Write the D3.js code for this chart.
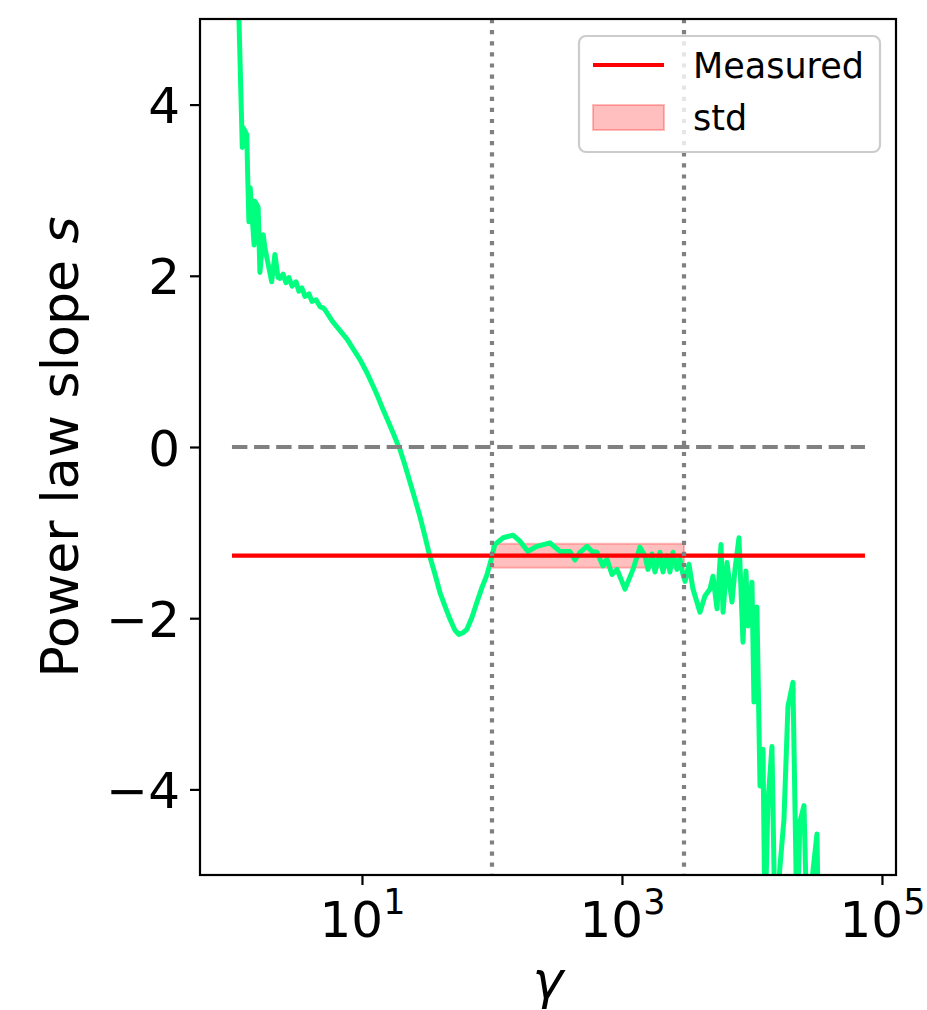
<!DOCTYPE html>
<html>
<head>
<meta charset="utf-8">
<script src="https://cdn.jsdelivr.net/npm/d3@7"></script>
<style>
  html, body { margin: 0; padding: 0; background: #fff; }
  svg { display: block; font-family: "DejaVu Sans", sans-serif; }
</style>
</head>
<body>
<svg id="chart" width="927" height="1010"></svg>
<script>
// Local power-law slope s as a function of gamma
const gamma = [1, 1.13, 1.17, 1.20, 1.22, 1.30, 1.32, 1.35, 1.38, 1.48, 1.50, 1.59, 1.64, 1.74, 1.79,
  2.02, 2.14, 2.26, 2.34, 2.47, 2.60, 2.74, 2.90, 3.11, 3.27, 3.45, 3.64, 3.91, 4.12, 4.43, 4.75,
  5.10, 5.47, 5.98, 6.78, 7.67, 8.53, 9.66, 10.9, 12.2, 13.3, 14.5, 15.8, 17.3, 18.6, 19.6, 21.4,
  23.4, 25.6, 27.9, 30.5, 33.3, 36.5, 39.8, 43.5, 47.5, 51.9, 55.7, 59.8, 64.2, 70.2, 76.7, 83.8,
  91.6, 100, 105, 122, 145, 164, 189, 222,
  279, 333, 398, 435, 475, 538, 588, 642, 714, 767, 838, 916, 1055, 1216, 1375, 1502, 1585, 1702,
  1795, 1960, 2066, 2218, 2339, 2467, 2649, 2793, 2946, 3055, 3275, 3517, 3981, 4348, 4753, 5012,
  5383, 5778, 5988, 6424, 7020, 7402, 7943, 8531, 8995, 9311, 10000, 10360, 10920, 11530, 12160,
  12590, 13280, 14250, 15030, 17620, 18920, 20660, 22180, 23390, 25120, 26490, 31620, 32500];
const slope = [8.0, 5.03, 4.15, 3.50, 3.73, 3.65, 3.18, 2.63, 3.03, 2.36, 2.87, 2.80, 2.04, 2.48, 2.33,
  1.93, 2.25, 1.98, 1.97, 2.02, 1.92, 1.98, 1.88, 1.93, 1.82, 1.86, 1.76, 1.79, 1.70, 1.72, 1.64,
  1.62, 1.55, 1.46, 1.36, 1.26, 1.15, 1.02, 0.87, 0.71, 0.58, 0.44, 0.31, 0.17, 0.05, -0.03, -0.21,
  -0.41, -0.61, -0.81, -1.04, -1.28, -1.49, -1.70, -1.86, -2.01, -2.14, -2.19, -2.17, -2.13, -1.99,
  -1.81, -1.64, -1.49, -1.28, -1.14, -1.06, -1.03, -1.10, -1.22, -1.16,
  -1.12, -1.22, -1.22, -1.32, -1.23, -1.16, -1.22, -1.23, -1.39, -1.31, -1.49,
  -1.43, -1.66, -1.43, -1.17, -1.27, -1.43, -1.25, -1.46, -1.23, -1.46, -1.27, -1.46, -1.23, -1.43,
  -1.31, -1.49, -1.57, -1.37, -1.66, -1.93, -1.74, -1.66, -1.51, -1.89, -1.14, -1.93, -1.35, -1.81,
  -1.43, -1.06, -2.28, -1.45, -2.09, -1.58, -2.98, -1.87, -3.96, -3.53, -5.6, -4.15, -3.50, -5.6,
  -4.35, -3.03, -2.75, -5.6, -4.38, -4.19, -5.6, -4.52, -5.6];

// Measured slope and its spread over the fitting window
const measuredSlope = -1.27;
const measuredStd = 0.14;
const fitWindow = [100, 3000];
const lineRange = [1, 74000];

const yTicks = [-4, -2, 0, 2, 4];
const xTicks = [10, 1000, 100000];
const xTickExp = ["1", "3", "5"];
const legendLabels = ["Measured", "std"];

const svg = d3.select("#chart");
const mLeft = 200, mRight = 896, mTop = 19, mBottom = 875;

const x = d3.scaleLog().domain([Math.pow(10, -0.246), Math.pow(10, 5.108)]).range([mLeft, mRight]);
const y = d3.scaleLinear().domain([-5, 5]).range([mBottom, mTop]);

svg.append("defs").append("clipPath").attr("id", "plotClip")
  .append("rect").attr("x", mLeft).attr("y", mTop)
  .attr("width", mRight - mLeft).attr("height", mBottom - mTop);

const plot = svg.append("g").attr("clip-path", "url(#plotClip)");

// std band over the fitting window
plot.append("rect")
  .attr("x", x(fitWindow[0]))
  .attr("width", x(fitWindow[1]) - x(fitWindow[0]))
  .attr("y", y(measuredSlope + measuredStd))
  .attr("height", y(measuredSlope - measuredStd) - y(measuredSlope + measuredStd))
  .attr("fill", "red").attr("fill-opacity", 0.25)
  .attr("stroke", "red").attr("stroke-opacity", 0.25).attr("stroke-width", 2);

// slope curve
const pts = gamma.map((g, i) => [g, slope[i]]);
plot.append("path")
  .datum(pts)
  .attr("d", d3.line().x(d => x(d[0])).y(d => y(d[1])))
  .attr("fill", "none").attr("stroke", "#00ff7f")
  .attr("stroke-width", 5).attr("stroke-linejoin", "round").attr("stroke-linecap", "square");

// measured slope
plot.append("line")
  .attr("x1", x(lineRange[0])).attr("x2", x(lineRange[1]))
  .attr("y1", y(measuredSlope)).attr("y2", y(measuredSlope))
  .attr("stroke", "red").attr("stroke-width", 4.2);

// zero reference
plot.append("line")
  .attr("x1", x(lineRange[0])).attr("x2", x(lineRange[1]))
  .attr("y1", y(0)).attr("y2", y(0))
  .attr("stroke", "#808080").attr("stroke-width", 4.2)
  .attr("stroke-dasharray", "15.4 6.7");

// fitting window bounds
plot.selectAll("line.vbound").data(fitWindow).join("line")
  .attr("class", "vbound")
  .attr("x1", d => x(d)).attr("x2", d => x(d))
  .attr("y1", mTop).attr("y2", mBottom)
  .attr("stroke", "#808080").attr("stroke-width", 4.2)
  .attr("stroke-dasharray", "4.2 6.9");

// axes
const yAxis = svg.append("g").attr("transform", `translate(${mLeft},0)`)
  .call(d3.axisLeft(y).tickValues(yTicks).tickSize(10).tickPadding(10)
    .tickFormat(d => d < 0 ? "\u2212" + Math.abs(d) : String(d)));
yAxis.select(".domain").remove();
yAxis.selectAll(".tick line").attr("stroke", "#000").attr("stroke-width", 2.2);
yAxis.selectAll(".tick text").attr("font-size", 50).attr("font-family", "DejaVu Sans")
  .attr("fill", "#000").attr("dy", "0.36em");

const xAxis = svg.append("g").attr("transform", `translate(0,${mBottom})`)
  .call(d3.axisBottom(x).tickValues(xTicks).tickSize(10).tickFormat(""));
xAxis.select(".domain").remove();
xAxis.selectAll(".tick line").attr("stroke", "#000").attr("stroke-width", 2.2);
xAxis.selectAll(".tick text").remove();
xAxis.selectAll(".tick").each(function(d, i) {
  const t = d3.select(this).append("text")
    .attr("y", 62).attr("text-anchor", "middle")
    .attr("font-size", 50).attr("font-family", "DejaVu Sans").attr("fill", "#000");
  t.append("tspan").text("10");
  t.append("tspan").attr("font-size", 35).attr("dy", -23.5).text(xTickExp[i]);
});

// frame
svg.append("rect")
  .attr("x", mLeft).attr("y", mTop).attr("width", mRight - mLeft).attr("height", mBottom - mTop)
  .attr("fill", "none").attr("stroke", "#000").attr("stroke-width", 2.2);

// axis labels
svg.append("text")
  .attr("x", (mLeft + mRight) / 2).attr("y", 998)
  .attr("text-anchor", "middle").attr("font-size", 52)
  .attr("font-style", "italic").attr("font-family", "DejaVu Sans")
  .text("\u03b3");

const yl = svg.append("text")
  .attr("transform", `translate(78,${(mTop + mBottom) / 2}) rotate(-90)`)
  .attr("text-anchor", "middle").attr("font-size", 52).attr("font-family", "DejaVu Sans");
yl.append("tspan").text("Power law slope ");
yl.append("tspan").attr("font-style", "italic").text("s");

// legend
const lg = svg.append("g");
lg.append("rect")
  .attr("x", 579).attr("y", 36).attr("width", 301).attr("height", 116)
  .attr("rx", 7).attr("ry", 7)
  .attr("fill", "#fff").attr("fill-opacity", 0.8)
  .attr("stroke", "#cccccc").attr("stroke-width", 2.2);
lg.append("line")
  .attr("x1", 593).attr("x2", 664).attr("y1", 65).attr("y2", 65)
  .attr("stroke", "red").attr("stroke-width", 4.2);
lg.append("rect")
  .attr("x", 593).attr("y", 105).attr("width", 71).attr("height", 25)
  .attr("fill", "red").attr("fill-opacity", 0.25)
  .attr("stroke", "red").attr("stroke-opacity", 0.25).attr("stroke-width", 2);
lg.selectAll("text.lab").data(legendLabels).join("text")
  .attr("class", "lab")
  .attr("x", 693).attr("y", (d, i) => 78 + i * 52)
  .attr("font-size", 35).attr("font-family", "DejaVu Sans").attr("fill", "#000")
  .text(d => d);
</script>
</body>
</html>
